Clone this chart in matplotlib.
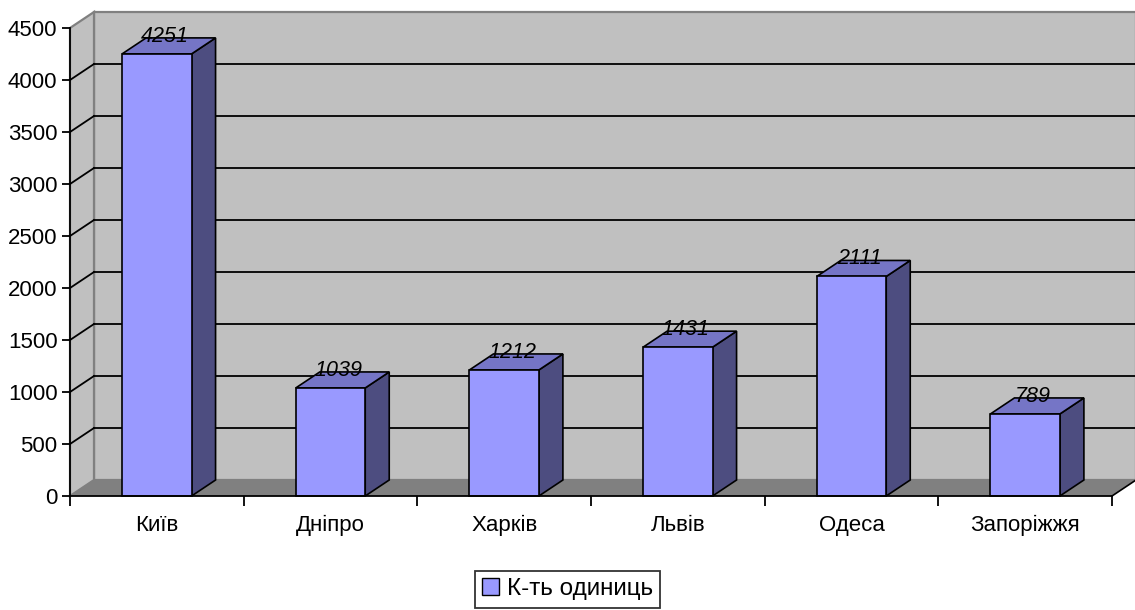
import matplotlib.pyplot as plt
from matplotlib.patches import Polygon, Patch

plt.rcParams['font.family'] = ['Liberation Sans', 'DejaVu Sans']

# --- data ---
cities = ['Київ', 'Дніпро', 'Харків', 'Львів', 'Одеса', 'Запоріжжя']
counts = [4251, 1039, 1212, 1431, 2111, 789]
series_name = 'К-ть одиниць'
y_ticks = list(range(0, 4501, 500))

# --- style ---
FRONT = '#9999FF'
TOP = '#7575C6'
SIDE = '#4D4D80'
WALL = '#C0C0C0'
FLOOR = '#808080'
EDGE = '#808080'
FS = 16

fig = plt.figure(figsize=(11.35, 6.1), dpi=100)
ax = fig.add_axes([70 / 1135, 114 / 610, 1042 / 1135, 468 / 610])
ax.set_xlim(-0.5, len(cities) - 0.5)
ax.set_ylim(0, 4500)
ax.patch.set_visible(False)

# depth offset of the back plane, given in pixels and turned into data units
x_px = ax.get_position().width * fig.get_figwidth() * fig.dpi / (len(cities))
y_px = ax.get_position().height * fig.get_figheight() * fig.dpi / 4500
DX = 24 / x_px
DY = 16 / y_px

x0, x1 = -0.5, len(cities) - 0.5
y0, y1 = 0, 4500


def poly(pts, fc, ec, lw, z):
    p = Polygon(pts, closed=True, facecolor=fc, edgecolor=ec, linewidth=lw,
                zorder=z, clip_on=False, joinstyle='miter')
    ax.add_patch(p)


# walls and floor
poly([(x0 + DX, y0 + DY), (x1 + DX, y0 + DY), (x1 + DX, y1 + DY), (x0 + DX, y1 + DY)],
     WALL, EDGE, 1.6, 1)
poly([(x0, y0), (x0 + DX, y0 + DY), (x0 + DX, y1 + DY), (x0, y1)], WALL, EDGE, 1.6, 1)
poly([(x0, y0), (x1, y0), (x1 + DX, y0 + DY), (x0 + DX, y0 + DY)], FLOOR, 'none', 0, 1.5)
ax.plot([x1, x1 + DX], [y0, y0 + DY], color='black', lw=1.2, zorder=1.6, clip_on=False)

# gridlines on the back wall and side wall
for v in y_ticks[1:-1]:
    ax.plot([x0 + DX, x1 + DX], [v + DY, v + DY], color='black', lw=1.3, zorder=2,
            clip_on=False)
    ax.plot([x0, x0 + DX], [v, v + DY], color='black', lw=1.3, zorder=2, clip_on=False)

# 3-D columns
W = 0.4
for i, v in enumerate(counts):
    l, r = i - W / 2, i + W / 2
    poly([(r, 0), (r + DX, DY), (r + DX, v + DY), (r, v)], SIDE, 'black', 1.2, 3)
    poly([(l, v), (r, v), (r + DX, v + DY), (l + DX, v + DY)], TOP, 'black', 1.2, 3)
    poly([(l, 0), (r, 0), (r, v), (l, v)], FRONT, 'black', 1.2, 3.1)
    ax.text(i + 0.045, v + DY + 15, str(v), ha='center', va='center',
            fontsize=FS - 0.5, style='italic', zorder=5)

# axes
for s in ['top', 'right']:
    ax.spines[s].set_visible(False)
for s in ['left', 'bottom']:
    ax.spines[s].set_linewidth(1.3)
    ax.spines[s].set_zorder(4)
ax.set_yticks(y_ticks)
ax.tick_params(axis='y', direction='out', length=6, width=1.3, pad=3, labelsize=FS)
ax.set_xticks([i - 0.5 for i in range(len(cities) + 1)])
ax.set_xticklabels([])
ax.set_xticks(range(len(cities)), minor=True)
ax.set_xticklabels(cities, minor=True, fontsize=FS, va='baseline')
ax.tick_params(axis='x', which='major', direction='out', length=7, width=1.3)
ax.tick_params(axis='x', which='minor', length=0, pad=25)

# legend
handle = Patch(facecolor=FRONT, edgecolor='black', linewidth=1)
leg = fig.legend([handle], [series_name], loc='lower center', bbox_to_anchor=(0.5, 0.0),
                 fontsize=FS + 1.5, frameon=True, fancybox=False, handlelength=0.7,
                 handleheight=0.7, handletextpad=0.3, borderpad=0.3,
                 borderaxespad=0.1)
leg.get_frame().set_edgecolor('black')
leg.get_frame().set_linewidth(1.3)

fig.savefig('out.png', dpi=100)
